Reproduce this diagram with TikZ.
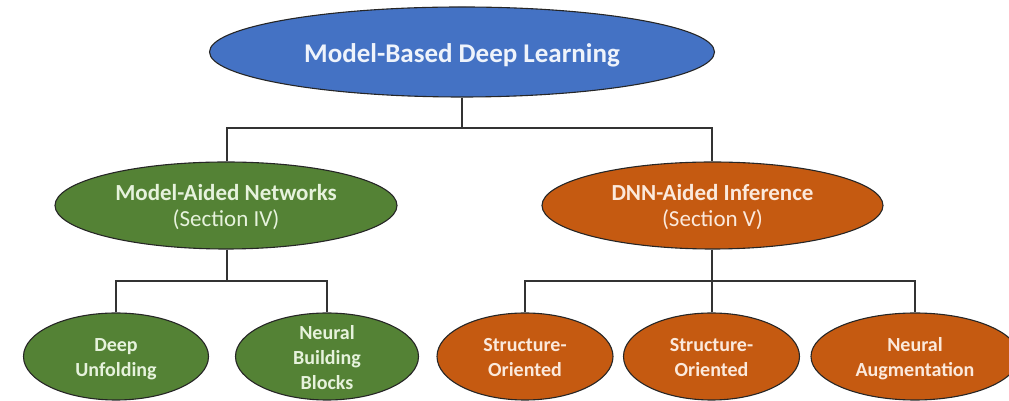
\documentclass[tikz,border=0pt]{standalone}
\usepackage{fontspec}
\setmainfont{Carlito}
\usetikzlibrary{shapes.geometric}
\definecolor{cblue}{HTML}{4472C4}
\definecolor{cgreen}{HTML}{548235}
\definecolor{corange}{HTML}{C55A11}
\definecolor{tblue}{HTML}{EEF3FB}
\definecolor{tgreen}{HTML}{E6F2DC}
\definecolor{torange}{HTML}{FBE9DC}
\tikzset{
  oval/.style={ellipse, draw=black!85, line width=1.1pt, inner sep=0pt},
  topoval/.style={oval, fill=cblue, minimum width=505pt, minimum height=90pt},
  midgreen/.style={oval, fill=cgreen, minimum width=342pt, minimum height=87pt},
  midorange/.style={oval, fill=corange, minimum width=341pt, minimum height=87pt},
  leafgreen/.style={oval, fill=cgreen, minimum height=87pt},
  leaforange/.style={oval, fill=corange, minimum height=87pt},
  toptxt/.style={text=tblue, inner sep=0pt, font=\fontsize{27}{32}\selectfont\bfseries},
  midtxt/.style={inner sep=0pt, align=center, font=\fontsize{23}{26}\selectfont},
  leaftxt/.style={inner sep=0pt, align=center, font=\fontsize{20}{25}\selectfont\bfseries},
  conn/.style={draw=black!80, line width=1.4pt}
}
\begin{document}
\begin{tikzpicture}[x=1pt,y=1pt]
\useasboundingbox (0,0) rectangle (1009,401);
% ovals
\node[topoval] (top) at (462,349) {};
\node[midgreen] (man) at (226,195.5) {};
\node[midorange] (dai) at (712.5,195.5) {};
\node[leafgreen, minimum width=185pt] (du) at (116,44.5) {};
\node[leafgreen, minimum width=183pt] (nbb) at (327,44.5) {};
\node[leaforange, minimum width=176pt] (so1) at (525,44.5) {};
\node[leaforange, minimum width=176pt] (so2) at (711.5,44.5) {};
\node[leaforange, minimum width=208pt] (na) at (915,44.5) {};
% texts
\node[toptxt] (topt) at ([yshift=-3pt]top.center) {Model-Based Deep Learning};
\node[midtxt, text=tgreen] (mant) at ([yshift=-2pt]man.center) {\textbf{Model-Aided Networks}\\(Section IV)};
\node[midtxt, text=torange] (dait) at ([yshift=-2pt]dai.center) {\textbf{DNN-Aided Inference}\\(Section V)};
\node[leaftxt, text=tgreen] (dut) at ([yshift=-3pt]du.center) {Deep\\Unfolding};
\node[leaftxt, text=tgreen] (nbbt) at ([yshift=-1.5pt]nbb.center) {Neural\\Building\\Blocks};
\node[leaftxt, text=torange] (so1t) at ([yshift=-1pt]so1.center) {Structure-\\Oriented};
\node[leaftxt, text=torange] (so2t) at ([yshift=-1pt]so2.center) {Structure-\\Oriented};
\node[leaftxt, text=torange] (nat) at ([yshift=-2.5pt]na.center) {Neural\\Augmentation};
% connectors
\coordinate (j1) at (462,273);
\coordinate (j2) at (227,120);
\coordinate (j3) at (712,120);
\draw[conn] (top.south) -- (j1);
\draw[conn] (man.north -| j2) |- (j1) -| (dai.north -| j3);
\draw[conn] (man.south -| j2) -- (j2);
\draw[conn] (du.north) |- (j2) -| (nbb.north);
\draw[conn] (dai.south -| j3) -- (j3);
\draw[conn] (so1.north) |- (j3) -| (na.north);
\draw[conn] (so2.north -| j3) -- (j3);
\end{tikzpicture}
\end{document}
